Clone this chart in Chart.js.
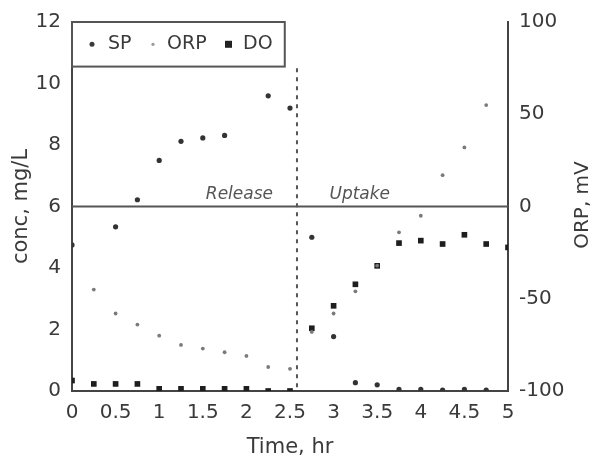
<!DOCTYPE html>
<html>
<head>
<meta charset="utf-8">
<script src="https://cdn.jsdelivr.net/npm/chart.js@4/dist/chart.umd.min.js"></script>
<style>
  body { margin: 0; background: #fff; }
  canvas { display: block; }
</style>
</head>
<body>
<canvas id="chart" width="592" height="459"></canvas>
<script>
// time points, hr
var timeSP = [0, 0.5, 0.75, 1, 1.25, 1.5, 1.75, 2.25, 2.5, 2.75, 3, 3.25, 3.5, 3.75, 4, 4.25, 4.5, 4.75];
var valuesSP = [4.75, 5.34, 6.22, 7.5, 8.12, 8.23, 8.31, 9.6, 9.2, 5.0, 1.77, 0.27, 0.2, 0.05, 0.05, 0.03, 0.05, 0.03];

var timeORP = [0.25, 0.5, 0.75, 1, 1.25, 1.5, 1.75, 2, 2.25, 2.5, 2.75, 3, 3.25, 3.5, 3.75, 4, 4.25, 4.5, 4.75];
var valuesORP = [-45, -58, -64, -70, -75, -77, -79, -81, -87, -88, -68, -58, -46, -32, -14, -5, 17, 32, 55];

var timeDO = [0, 0.25, 0.5, 0.75, 1, 1.25, 1.5, 1.75, 2, 2.25, 2.5, 2.75, 3, 3.25, 3.5, 3.75, 4, 4.25, 4.5, 4.75, 5];
var valuesDO = [0.34, 0.23, 0.23, 0.23, 0.07, 0.07, 0.07, 0.07, 0.07, 0, 0, 2.04, 2.77, 3.47, 4.07, 4.81, 4.89, 4.78, 5.08, 4.78, 4.67];

var timeTicks = [0, 0.5, 1, 1.5, 2, 2.5, 3, 3.5, 4, 4.5, 5];
var phaseSwitch = 2.58;
var phaseLabels = ["Release", "Uptake"];

function pairs(xs, ys) {
    return xs.map(function (x, i) { return { x: x, y: ys[i] }; });
}

var ink = '#3a3a3a';
var font = "'DejaVu Sans', Verdana, sans-serif";

// reference lines, legend box, phase labels and the right axis title
var decorations = {
    id: 'decorations',
    beforeDatasetsDraw: function (chart) {
        var c = chart.ctx, a = chart.chartArea;
        var xs = chart.scales.x, ys = chart.scales.y;
        c.save();
        c.strokeStyle = '#555';
        c.lineWidth = 2;
        // ORP = 0 line
        var y0 = ys.getPixelForValue(6);
        c.beginPath();
        c.moveTo(a.left, y0);
        c.lineTo(a.right, y0);
        c.stroke();
        // phase switch
        var xp = xs.getPixelForValue(phaseSwitch);
        c.setLineDash([4, 5]);
        c.beginPath();
        c.moveTo(xp, ys.getPixelForValue(10.5));
        c.lineTo(xp, a.bottom);
        c.stroke();
        c.setLineDash([]);
        // phase labels
        c.fillStyle = '#555';
        c.font = 'italic 17px ' + font;
        c.textAlign = 'center';
        c.textBaseline = 'bottom';
        c.fillText(phaseLabels[0], xs.getPixelForValue(1.92), y0 - 3);
        c.fillText(phaseLabels[1], xs.getPixelForValue(3.3), y0 - 3);
        c.restore();
    },
    afterDatasetsDraw: function (chart) {
        var c = chart.ctx, a = chart.chartArea;
        var xs = chart.scales.x, ys = chart.scales.y;
        var bottom = ys.getPixelForValue(10.55);
        var right = xs.getPixelForValue(2.44);
        c.save();
        c.fillStyle = '#fff';
        c.fillRect(a.left, a.top, right - a.left, bottom - a.top);
        c.strokeStyle = '#555';
        c.lineWidth = 2;
        c.strokeRect(a.left, a.top, right - a.left, bottom - a.top);
        var my = (a.top + bottom) / 2;
        c.font = '19px ' + font;
        c.textBaseline = 'middle';
        c.fillStyle = ink;
        // SP
        c.beginPath(); c.arc(a.left + 20, my, 2.5, 0, Math.PI * 2); c.fill();
        c.fillText(chart.data.datasets[0].label, a.left + 36, my);
        // ORP
        c.fillStyle = '#999';
        c.beginPath(); c.arc(a.left + 81, my, 1.6, 0, Math.PI * 2); c.fill();
        c.fillStyle = ink;
        c.fillText(chart.data.datasets[1].label, a.left + 95, my);
        // DO
        c.fillStyle = '#222';
        c.fillRect(a.left + 153, my - 3.5, 7, 7);
        c.fillStyle = ink;
        c.fillText(chart.data.datasets[2].label, a.left + 171, my);
        // right axis title, reading upwards
        c.translate(583, 205);
        c.rotate(-Math.PI / 2);
        c.font = '20px ' + font;
        c.textAlign = 'center';
        c.fillText('ORP, mV', 0, 0);
        c.restore();
    }
};

var ctx = document.getElementById('chart');

var config = {
    type: 'scatter',
    data: {
        datasets: [
            {
                label: 'SP',
                data: pairs(timeSP, valuesSP),
                yAxisID: 'y',
                pointStyle: 'circle',
                pointRadius: 2.6,
                backgroundColor: '#333',
                borderColor: '#333',
                borderWidth: 0
            },
            {
                label: 'ORP',
                data: pairs(timeORP, valuesORP),
                yAxisID: 'y2',
                pointStyle: 'circle',
                pointRadius: 1.9,
                backgroundColor: '#7a7a7a',
                borderColor: '#7a7a7a',
                borderWidth: 0
            },
            {
                label: 'DO',
                data: pairs(timeDO, valuesDO),
                yAxisID: 'y',
                pointStyle: 'rect',
                pointRadius: 4,
                backgroundColor: '#1e1e1e',
                borderColor: '#1e1e1e',
                borderWidth: 0
            }
        ]
    },
    options: {
        responsive: false,
        animation: false,
        layout: {
            padding: { top: 22, right: 0, left: 0, bottom: 0 }
        },
        plugins: {
            legend: { display: false },
            tooltip: { enabled: false }
        },
        scales: {
            x: {
                type: 'linear',
                min: 0,
                max: 5,
                afterBuildTicks: function (axis) {
                    axis.ticks = timeTicks.map(function (v) { return { value: v }; });
                },
                grid: { display: false },
                border: { display: true, color: '#444', width: 2 },
                ticks: {
                    color: ink,
                    font: { family: font, size: 20 },
                    padding: 2,
                    maxRotation: 0,
                    callback: function (v) { return String(v); }
                },
                title: {
                    display: true,
                    text: 'Time, hr',
                    color: ink,
                    font: { family: font, size: 21 },
                    padding: { top: 0, bottom: -1 }
                },
                afterFit: function (axis) { axis.height = 68; }
            },
            y: {
                position: 'left',
                min: 0,
                max: 12,
                grid: { display: false },
                border: { display: true, color: '#444', width: 2 },
                ticks: {
                    stepSize: 2,
                    color: ink,
                    font: { family: font, size: 20 },
                    padding: 3
                },
                title: {
                    display: true,
                    text: 'conc, mg/L',
                    color: ink,
                    font: { family: font, size: 21 },
                    padding: { top: 9 }
                },
                afterFit: function (axis) { axis.width = 72; }
            },
            y2: {
                position: 'right',
                min: -100,
                max: 100,
                grid: { display: false },
                border: { display: true, color: '#444', width: 2 },
                ticks: {
                    stepSize: 50,
                    color: ink,
                    font: { family: font, size: 20 },
                    padding: 3
                },
                afterFit: function (axis) { axis.width = 84; }
            }
        }
    },
    plugins: [decorations]
};

var chart = new Chart(ctx, config);
</script>
</body>
</html>
